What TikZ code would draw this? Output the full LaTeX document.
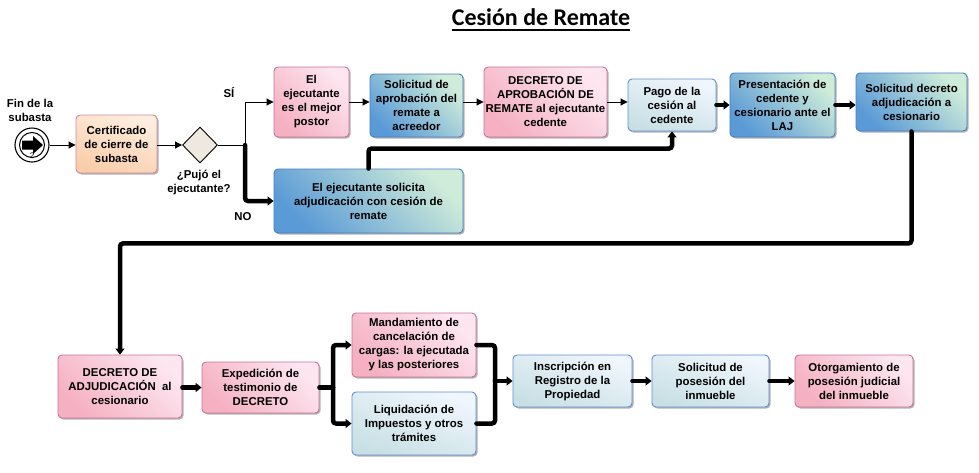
\documentclass[tikz,border=0pt]{standalone}
\usepackage{fontspec}
\setmainfont{Liberation Sans}
\newfontfamily\titlefont{Carlito}
\usetikzlibrary{arrows.meta,shadows,shapes.geometric}
\definecolor{pinkL}{HTML}{FDE6F0}
\definecolor{pinkD}{HTML}{F5B0C2}
\definecolor{pinkB}{HTML}{C8729A}
\definecolor{blueL}{HTML}{CFECD9}
\definecolor{blueD}{HTML}{5A9AD6}
\definecolor{blueB}{HTML}{4A7EBE}
\definecolor{paleL}{HTML}{F0F6FD}
\definecolor{paleD}{HTML}{C8E0E4}
\definecolor{paleB}{HTML}{5F8ED0}
\definecolor{peachL}{HTML}{FEEEDF}
\definecolor{peachD}{HTML}{F9CDAA}
\definecolor{peachB}{HTML}{D08A9E}
\definecolor{diaF}{HTML}{EDE9DF}
\begin{document}
\begin{tikzpicture}[x=1pt,y=-1pt,
 font=\fontsize{11.4}{14}\selectfont\bfseries,
 box/.style={rounded corners=4pt, align=center, inner sep=1pt, line width=0.9pt,
   drop shadow={shadow xshift=1.5pt, shadow yshift=-1.5pt, opacity=0.3, fill=black}},
 wh/.style 2 args={minimum width=#1, minimum height=#2},
 pinkbox/.style={box, draw=pinkB, top color=pinkL, bottom color=pinkD, shading angle=-45},
 bluebox/.style={box, draw=blueB, top color=blueL, bottom color=blueD, shading angle=-45},
 palebox/.style={box, draw=paleB, top color=paleL, bottom color=paleD, shading angle=-20},
 peachbox/.style={box, draw=peachB, top color=peachL, bottom color=peachD, shading angle=-20},
 tarrow/.style={line width=1pt, -{Triangle[length=7pt,width=7pt]}},
 Tline/.style={line width=4.5pt, rounded corners=3pt, line cap=round},
 Tarrow/.style={Tline, -{Triangle[length=6pt,width=9pt]}},
 lbl/.style={align=center, inner sep=0pt},
]
\useasboundingbox (0,0) rectangle (979,472);

% title
\node[inner sep=0pt, anchor=base, font=\titlefont\fontsize{24}{26}\selectfont\bfseries] (title) at (541,25) {Cesión de Remate};
\draw[line width=1.6pt] ([yshift=-5pt]title.base west) -- ([yshift=-5pt]title.base east);

% start event
\node[circle, draw, line width=1.1pt, fill=white, minimum size=34pt, inner sep=0pt] (start) at (32,145) {};
\draw[line width=1pt] (start.center) circle (12.5);
\fill ([shift={(-10,-4.5)}]start.center) -- ++(11,0) -- ++(0,-4.5) -- ++(10,9) -- ++(-10,9) -- ++(0,-4.5) -- ++(-11,0) -- cycle;
\node[lbl, font=\fontsize{8}{8}\selectfont] (two) at (32,156) {2};
\node[lbl] (fin) at (30,110) {Fin de la\\subasta};

\node[peachbox, wh={81}{58}] (cert) at (116.5,144) {Certificado\\de cierre de\\subasta};
\node[diamond, draw, line width=0.9pt, fill=diaF, minimum width=35pt, minimum height=36pt, inner sep=0pt] (dia) at (200,145) {};
\node[lbl] (puj) at (199,182) {¿Pujó el\\ejecutante?};
\node[lbl] (si) at (229,92) {SÍ};
\node[lbl] (no) at (243,217) {NO};

% top row
\node[pinkbox, wh={75}{70}] (e1) at (311.5,102) {El\\ejecutante\\es el mejor\\postor};
\node[bluebox, wh={93}{63}] (e2) at (416.5,105.5) {Solicitud de\\aprobación del\\remate a\\acreedor};
\node[pinkbox, wh={123}{70}] (e3) at (545.5,102) {DECRETO DE\\APROBACIÓN DE\\REMATE al ejecutante\\cedente};
\node[palebox, wh={88}{52}] (e4) at (672,105) {Pago de la\\cesión al\\cedente};
\node[bluebox, wh={105}{64}] (e5) at (782.5,105) {Presentación de\\cedente y\\cesionario ante el\\LAJ};
\node[bluebox, wh={111}{58}] (e6) at (911.5,102) {Solicitud decreto\\adjudicación a\\cesionario};
\node[bluebox, wh={189}{64}] (e7) at (368.5,201) {El ejecutante solicita\\adjudicación con cesión de\\remate};

% bottom row
\node[pinkbox, wh={124}{63}] (b1) at (120,386.5) {DECRETO DE\\ADJUDICACIÓN\ \ al\\cesionario};
\node[pinkbox, wh={117}{51}] (b2) at (260.5,387.5) {Expedición de\\testimonio de\\DECRETO};
\node[pinkbox, wh={124}{64}] (b3) at (414,345) {Mandamiento de\\cancelación de\\cargas: la ejecutada\\y las posteriores};
\node[palebox, wh={124}{63}] (b4) at (414,423.5) {Liquidación de\\Impuestos y otros\\trámites};
\node[palebox, wh={119}{52}] (b5) at (572.5,381) {Inscripción en\\Registro de la\\Propiedad};
\node[palebox, wh={117}{52}] (b6) at (710.5,381) {Solicitud de\\posesión del\\inmueble};
\node[pinkbox, wh={118}{52}] (b7) at (854,381) {Otorgamiento de\\posesión judicial\\del inmueble};

% connectors
\draw[tarrow] (start.east) -- (start.east -| cert.west);
\draw[tarrow] (cert.east |- dia) -- (dia.west);
\coordinate (br) at (245,145);
\draw[line width=1pt] (dia.east) -- (br);
\draw[tarrow] (br) |- (e1.west);
\draw[Tarrow] (br) |- (e7.west);
\draw[tarrow] (e1.east) -- (e1.east -| e2.west);
\draw[tarrow] (e2.east |- e1.east) -- (e1.east -| e3.west);
\draw[tarrow] (e3.east) -- (e3.east -| e4.west);
\draw[Tarrow] (e4.east) -- (e4.east -| e5.west);
\draw[Tarrow] (e5.east) -- (e5.east -| e6.west);
\draw[Tarrow] (e7.north) -- ++(0,-20) -| (e4.south);
\draw[Tarrow] (e6.south) -- ++(0,112) -| (b1.north);
\draw[Tarrow] (b1.east |- b2.east) -- (b2.west);
\coordinate (lb) at (333,387.5);
\coordinate (rb) at (495,381);
\draw[Tline] (b2.east) -- (lb);
\draw[Tarrow] (lb) |- (b3.west);
\draw[Tarrow] (lb) |- (b4.west);
\draw[Tline] (b3.east) -| (rb);
\draw[Tline] (b4.east) -| (rb);
\draw[Tarrow] (rb) -- (b5.west);
\draw[Tarrow] (b5.east) -- (b6.west);
\draw[Tarrow] (b6.east) -- (b7.west);
\end{tikzpicture}
\end{document}
